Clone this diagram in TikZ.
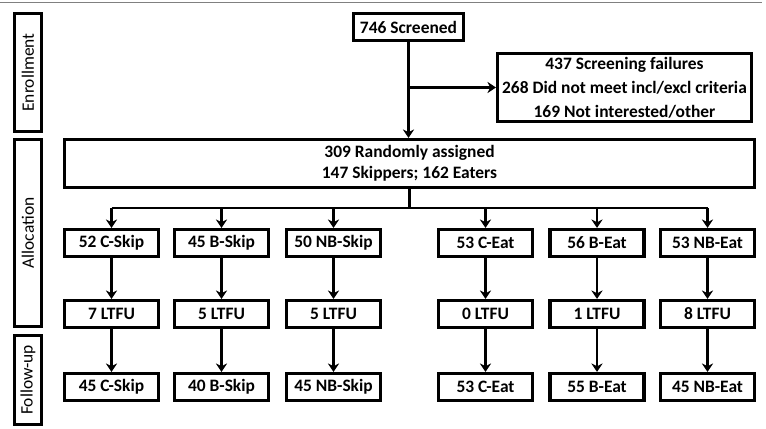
\documentclass[tikz,border=0pt]{standalone}
\usepackage{fontspec}
\setmainfont{Carlito}
\usetikzlibrary{arrows.meta}
\begin{document}
\begin{tikzpicture}[x=0.25mm,y=-0.25mm,
    flowbox/.style={shape=rectangle,draw,line width=2.3pt,inner sep=1pt,align=center,
        font=\fontsize{12.4}{15}\selectfont\bfseries},
    groupbox/.style={flowbox,minimum width=23.5mm,minimum height=6.75mm},
    phasebox/.style={shape=rectangle,draw,line width=2.3pt,inner sep=0pt,minimum width=6.75mm},
    phasetext/.style={rotate=90,font=\fontsize{12.4}{14}\selectfont},
    link/.style={line width=1.7pt},
    arr/.style={link,-{Stealth[length=6pt,width=8pt,inset=2pt]}}]
    \useasboundingbox (0,0) rectangle (766,428);
    \draw[gray,line width=0.6pt] (0,2) -- (762,2);
    \node[phasebox,minimum height=29.5mm]  (enrol) at (28,72.5) {};
    \node[phasebox,minimum height=46.75mm] (alloc) at (28,233) {};
    \node[phasebox,minimum height=22.25mm] (follow) at (28,380) {};
    \node[phasetext] (enrolT)  at (enrol)  {Enrollment};
    \node[phasetext] (allocT)  at (alloc)  {Allocation};
    \node[phasetext] (followT) at (follow) {Follow-up};
    \node[flowbox,minimum width=27.5mm,minimum height=6.75mm] (scr)  at (408.5,27)   {746 Screened};
    \node[flowbox,minimum width=63.5mm,minimum height=17mm,
        font=\fontsize{12.4}{17}\selectfont\bfseries] (fail) at (624.5,87.5) {437 Screening failures\\268 Did not meet incl/excl criteria\\169 Not interested/other};
    \node[flowbox,minimum width=172.5mm,minimum height=12mm] (rand) at (409.5,163.5) {309 Randomly assigned\\147 Skippers; 162 Eaters};
    \node[groupbox] (cskip)  at (111.5,243) {52 C-Skip};
    \node[groupbox] (bskip)  at (221.5,243) {45 B-Skip};
    \node[groupbox] (nbskip) at (333.5,243) {50 NB-Skip};
    \node[groupbox] (ceat)   at (485.5,243) {53 C-Eat};
    \node[groupbox] (beat)   at (597,243)   {56 B-Eat};
    \node[groupbox] (nbeat)  at (707.5,243) {53 NB-Eat};
    \node[groupbox] (lcskip)  at (111.5,314) {7 LTFU};
    \node[groupbox] (lbskip)  at (221.5,314) {5 LTFU};
    \node[groupbox] (lnbskip) at (333.5,314) {5 LTFU};
    \node[groupbox] (lceat)   at (485.5,314) {0 LTFU};
    \node[groupbox] (lbeat)   at (597,314)   {1 LTFU};
    \node[groupbox] (lnbeat)  at (707.5,314) {8 LTFU};
    \node[groupbox] (fcskip)  at (111.5,387) {45 C-Skip};
    \node[groupbox] (fbskip)  at (221.5,387) {40 B-Skip};
    \node[groupbox] (fnbskip) at (333.5,387) {45 NB-Skip};
    \node[groupbox] (fceat)   at (485.5,387) {53 C-Eat};
    \node[groupbox] (fbeat)   at (597,387)   {55 B-Eat};
    \node[groupbox] (fnbeat)  at (707.5,387) {45 NB-Eat};
    \draw[arr] (scr.south) -- (scr.south |- rand.north);
    \draw[arr] (scr.south |- fail.west) -- (fail.west);
    \draw[link] (rand.south) -- ++(0,19) coordinate (split);
    \draw[link] (cskip.north |- split) -- (nbeat.north |- split);
    \foreach \g in {cskip,bskip,nbskip,ceat,beat,nbeat} {
        \draw[arr] (\g.north |- split) -- (\g.north);
        \draw[arr] (\g.south) -- (l\g.north);
        \draw[arr] (l\g.south) -- (f\g.north);
    }
\end{tikzpicture}
\end{document}
